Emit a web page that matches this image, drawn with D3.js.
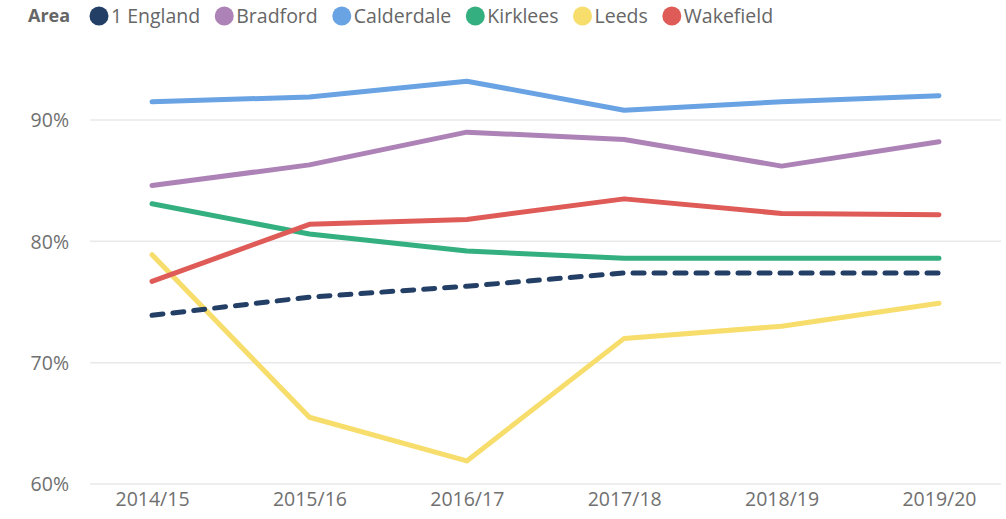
<!DOCTYPE html>
<html>
<head>
<meta charset="utf-8">
<script src="https://cdn.jsdelivr.net/npm/d3@7"></script>
<style>
  html, body { margin: 0; padding: 0; background: #fff; }
  svg { display: block; font-family: "Open Sans", sans-serif; }
</style>
</head>
<body>
<svg id="chart" width="1006" height="519"></svg>
<script>
const years = ["2014/15", "2015/16", "2016/17", "2017/18", "2018/19", "2019/20"];
const areas = ["1 England", "Bradford", "Calderdale", "Kirklees", "Leeds", "Wakefield"];
const colors = ["#243F66", "#AD82B6", "#6AA3E3", "#33AF80", "#F7DD6B", "#DF5B57"];
const england    = [73.9, 75.4, 76.3, 77.4, 77.4, 77.4];
const bradford   = [84.6, 86.3, 89.0, 88.4, 86.2, 88.2];
const calderdale = [91.5, 91.9, 93.2, 90.8, 91.5, 92.0];
const kirklees   = [83.1, 80.6, 79.2, 78.6, 78.6, 78.6];
const leeds      = [78.9, 65.5, 61.9, 72.0, 73.0, 74.9];
const wakefield  = [76.7, 81.4, 81.8, 83.5, 82.3, 82.2];
const yTicks = [60, 70, 80, 90];
const legendTitle = "Area";

const seriesValues = [england, bradford, calderdale, kirklees, leeds, wakefield];
const series = areas.map((name, i) => ({ name, color: colors[i], values: seriesValues[i], dashed: i === 0 }));

const svg = d3.select("#chart");
const x = d3.scalePoint().domain(years).range([90, 1001]).padding(0.394);
const y = d3.scaleLinear().domain([60, 90]).range([484, 120]);

// gridlines
svg.append("g")
  .selectAll("line").data(yTicks).join("line")
  .attr("x1", 90).attr("x2", 1001)
  .attr("y1", d => y(d)).attr("y2", d => y(d))
  .attr("stroke", "#e9e9e9").attr("stroke-width", 1.5);

// y axis labels
const yAxis = svg.append("g").attr("transform", "translate(69,0)")
  .call(d3.axisLeft(y).tickValues(yTicks).tickFormat(d => d + "%").tickSize(0).tickPadding(0));
yAxis.select(".domain").remove();
yAxis.selectAll("text").attr("fill", "#707070").style("font-size", "19.5px").style("font-family", "Open Sans").attr("dy", "0.35em");

// x axis labels
const xAxis = svg.append("g").attr("transform", "translate(0,492)")
  .call(d3.axisBottom(x).tickSize(0).tickPadding(0));
xAxis.select(".domain").remove();
xAxis.selectAll("text").attr("fill", "#707070").style("font-size", "19.5px").style("font-family", "Open Sans").attr("dy", "0.7em");

// lines
const line = d3.line().x((d, i) => x(years[i])).y(d => y(d));
const drawOrder = [1, 2, 3, 4, 5, 0];
svg.append("g").selectAll("path").data(drawOrder.map(i => series[i])).join("path")
  .attr("d", d => line(d.values))
  .attr("fill", "none")
  .attr("stroke", d => d.color)
  .attr("stroke-width", 5)
  .attr("stroke-linecap", "round")
  .attr("stroke-linejoin", "round")
  .attr("stroke-dasharray", d => d.dashed ? "11,10" : null);

// legend
const lg = svg.append("g").attr("transform", "translate(0,16)");
lg.append("text").text(legendTitle)
  .attr("x", 28).attr("dy", "0.35em")
  .attr("fill", "#666").style("font-size", "18px").style("font-weight", "bold");
let cx = 99;
series.forEach(s => {
  lg.append("circle").attr("cx", cx).attr("cy", 0).attr("r", 9.5).attr("fill", s.color);
  const t = lg.append("text").text(s.name).attr("x", cx + 12).attr("dy", "0.35em")
    .attr("fill", "#666").style("font-size", "19.5px");
  const w = t.node().getComputedTextLength();
  cx = cx + 12 + w + 24;
});
</script>
</body>
</html>
